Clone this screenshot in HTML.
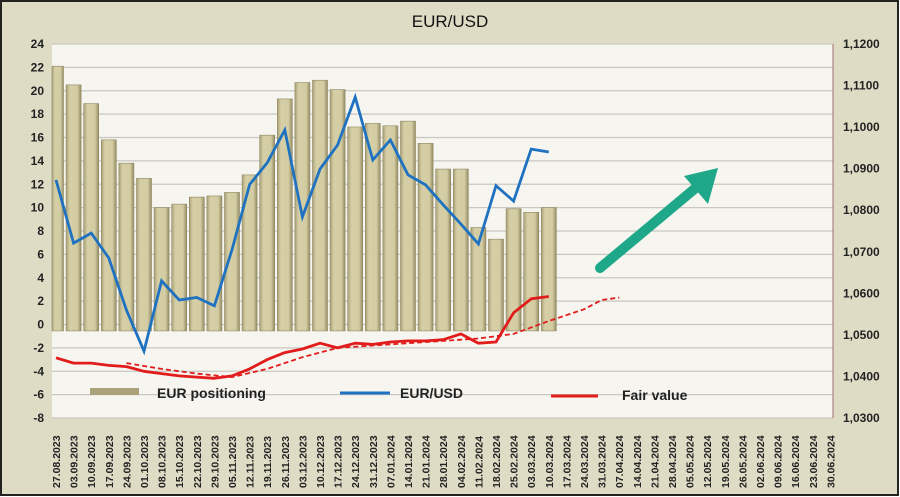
<!DOCTYPE html>
<html><head><meta charset="utf-8"><style>
html,body{margin:0;padding:0;background:#fff}
svg{display:block;font-family:"Liberation Sans",sans-serif}
</style></head><body>
<svg id="chart" width="900" height="497" viewBox="0 0 900 497">
<defs>
<linearGradient id="barg" x1="0" x2="1" y1="0" y2="0">
<stop offset="0" stop-color="#a9a27a"/><stop offset="0.25" stop-color="#d6cfa6"/><stop offset="0.75" stop-color="#d3cca2"/><stop offset="1" stop-color="#948c62"/>
</linearGradient>
</defs>
<rect x="1" y="1" width="897" height="494" fill="#dfdcc6" stroke="#222" stroke-width="2"/>
<text x="450" y="27" text-anchor="middle" font-size="17" fill="#111">EUR/USD</text>
<rect x="52" y="44" width="781" height="374" fill="#f6f5f0"/>
<g id="grid"></g><g id="bars"></g><g id="lines"></g><g id="axes"></g>
<g>
<line x1="600" y1="268" x2="698" y2="186" stroke="#1ea889" stroke-width="10" stroke-linecap="round"/>
<polygon points="718,168 684,176 708,204" fill="#1ea889"/>
</g>
<g>
<rect x="90" y="388" width="49" height="7" fill="#aaa27a"/>
<text x="157" y="398" font-size="14" font-weight="bold" fill="#222">EUR positioning</text>
<line x1="340" y1="393" x2="390" y2="393" stroke="#1f72c0" stroke-width="3"/>
<text x="400" y="398" font-size="14" font-weight="bold" fill="#222">EUR/USD</text>
<line x1="551" y1="396" x2="598" y2="396" stroke="#e21b1b" stroke-width="3"/>
<text x="622" y="400" font-size="14" font-weight="bold" fill="#222">Fair value</text>
</g>
</svg>
<script>
const categories=["27.08.2023","03.09.2023","10.09.2023","17.09.2023","24.09.2023","01.10.2023","08.10.2023","15.10.2023","22.10.2023","29.10.2023","05.11.2023","12.11.2023","19.11.2023","26.11.2023","03.12.2023","10.12.2023","17.12.2023","24.12.2023","31.12.2023","07.01.2024","14.01.2024","21.01.2024","28.01.2024","04.02.2024","11.02.2024","18.02.2024","25.02.2024","03.03.2024","10.03.2024","17.03.2024","24.03.2024","31.03.2024","07.04.2024","14.04.2024","21.04.2024","28.04.2024","05.05.2024","12.05.2024","19.05.2024","26.05.2024","02.06.2024","09.06.2024","16.06.2024","23.06.2024","30.06.2024"];
const positioning=[22.1,20.5,18.9,15.8,13.8,12.5,10.0,10.3,10.9,11.0,11.3,12.8,16.2,19.3,20.7,20.9,20.1,16.9,17.2,17.0,17.4,15.5,13.3,13.3,8.3,7.3,9.9,9.6,10.0];
const eurusd=[1.0873,1.0721,1.0745,1.0685,1.0560,1.0461,1.0630,1.0584,1.0590,1.0570,1.0705,1.0862,1.0914,1.0993,1.0784,1.0899,1.0957,1.1072,1.0921,1.0969,1.0885,1.0861,1.0813,1.0767,1.0719,1.0859,1.0822,1.0947,1.0940];
const fairValue=[-2.85,-3.3,-3.3,-3.5,-3.6,-4.0,-4.2,-4.4,-4.5,-4.6,-4.4,-3.8,-3.0,-2.4,-2.1,-1.6,-2.0,-1.6,-1.7,-1.5,-1.4,-1.4,-1.3,-0.8,-1.6,-1.5,1.0,2.2,2.4];
const fairTrendIdx=[4,6,8,10,12,14,16,18,20,22,24,26,28,30,31,32];
const fairTrend=[-3.3,-3.8,-4.2,-4.5,-3.8,-2.8,-2.0,-1.8,-1.6,-1.4,-1.2,-0.8,0.3,1.3,2.1,2.3];
const leftTicks=[24,22,20,18,16,14,12,10,8,6,4,2,0,-2,-4,-6,-8];
const rightTicks=["1,1200","1,1100","1,1000","1,0900","1,0800","1,0700","1,0600","1,0500","1,0400","1,0300"];
const rightVals=[1.12,1.11,1.10,1.09,1.08,1.07,1.06,1.05,1.04,1.03];

const NS="http://www.w3.org/2000/svg";
const T=44,B=418,L=52,R=833;
const xPos=i=>56+i*17.6;
const yL=v=>T+(24-v)/32*(B-T);
const yR=v=>T+(1.12-v)/0.09*(B-T);
function mk(tag,attrs,parent){const e=document.createElementNS(NS,tag);for(const k in attrs)e.setAttribute(k,attrs[k]);parent.appendChild(e);return e;}
const grid=document.getElementById('grid'),bars=document.getElementById('bars'),lines=document.getElementById('lines'),axes=document.getElementById('axes');
leftTicks.forEach(v=>{
 const g=mk('line',{x1:L,x2:R,y1:yL(v),y2:yL(v),stroke:'#c9c7c0','stroke-width':1.2},grid);
 
 
 const t=mk('text',{x:44,y:yL(v)+4,'text-anchor':'end','font-size':12,'font-weight':'bold',fill:'#222'},axes);
 t.textContent=v;
 
 
});
mk('line',{x1:R,x2:R,y1:T,y2:B,stroke:'#a07070','stroke-width':1},axes);
rightVals.forEach((v,i)=>{
 const t=mk('text',{x:843,y:yR(v)+4,'font-size':12,'font-weight':'bold',fill:'#222'},axes);
 t.textContent=rightTicks[i];
 
 
});
categories.forEach((c,i)=>{
 const x=xPos(i);
 const t=mk('text',{transform:`translate(${x+4},${488}) rotate(-90)`,'font-size':10.5,'font-weight':'bold',fill:'#222'},axes);
 t.textContent=c;
 
 
});
const base=yL(-0.55);
positioning.forEach((v,i)=>{
 let x0=xPos(i)-7.5,x1=xPos(i)+7.5; if(x0<L)x0=L;
 const b=mk('rect',{x:x0,y:yL(v),width:x1-x0,height:base-yL(v),fill:'url(#barg)',stroke:'#8e8760','stroke-width':0.6},bars);
 
 
});
function path(pts){return pts.map((p,i)=>(i?'L':'M')+p[0].toFixed(1)+','+p[1].toFixed(1)).join(' ');}
const ft=mk('path',{d:path(fairTrend.map((v,k)=>[xPos(fairTrendIdx[k]),yL(v)])),fill:'none',stroke:'#e21b1b','stroke-width':1.8,'stroke-dasharray':'5,3'},lines);


const fv=mk('path',{d:path(fairValue.map((v,i)=>[Math.max(L,xPos(i)),yL(v)])),fill:'none',stroke:'#e21b1b','stroke-width':2.8,'stroke-linejoin':'round'},lines);


const eu=mk('path',{d:path(eurusd.map((v,i)=>[Math.max(L,xPos(i)),yR(v)])),fill:'none',stroke:'#1f72c0','stroke-width':2.8,'stroke-linejoin':'miter'},lines);


</script>
</body></html>
